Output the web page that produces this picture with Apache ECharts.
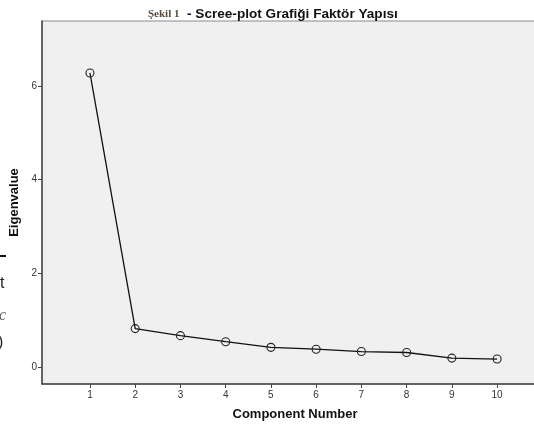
<!DOCTYPE html>
<html><head><meta charset="utf-8">
<script src="https://cdn.jsdelivr.net/npm/echarts@6/dist/echarts.min.js"></script>
<style>html,body{margin:0;padding:0;background:#fff}#c{width:534px;height:426px}</style>
</head><body><div id="c"></div>
<script>
var components = [1, 2, 3, 4, 5, 6, 7, 8, 9, 10];
var eigenvalues = [6.28, 0.82, 0.67, 0.54, 0.42, 0.38, 0.33, 0.31, 0.19, 0.17];
var xTicks = [1, 2, 3, 4, 5, 6, 7, 8, 9, 10];
var yTicks = [0, 2, 4, 6];

var chart = echarts.init(document.getElementById('c'), null, {renderer: 'canvas'});
var sans = 'Arial, "Liberation Sans", sans-serif';
chart.setOption({
  animation: false,
  backgroundColor: '#ffffff',
  title: {
    left: 143, top: 2,
    text: '{a|Şekil 1}{b|  - Scree-plot Grafiği Faktör Yapısı}',
    textStyle: {
      rich: {
        a: {fontFamily: '"Liberation Serif", "DejaVu Serif", serif', fontWeight: 'bold', fontSize: 11, color: '#5a4a3a'},
        b: {fontFamily: sans, fontWeight: 'bold', fontSize: 13.6, color: '#111'}
      }
    }
  },
  grid: {left: 42, right: -2, top: 21, bottom: 42, containLabel: false, outerBoundsMode: 'none',
    show: true, backgroundColor: '#f0f0f0', borderColor: '#8a8a8a', borderWidth: 1},
  xAxis: {
    type: 'value', min: -0.06, max: 10.86,
    axisLine: {show: true, onZero: false, lineStyle: {color: '#444', width: 1.5}},
    splitLine: {show: false},
    axisTick: {show: true, length: 4, lineStyle: {color: '#444'}, customValues: xTicks},
    axisLabel: {customValues: xTicks, color: '#333', fontSize: 10, fontFamily: sans, margin: 6},
    name: 'Component Number', nameLocation: 'middle', nameGap: 24,
    nameTextStyle: {fontFamily: sans, fontWeight: 'bold', fontSize: 13, color: '#111', padding: [0, 0, 0, 12]}
  },
  yAxis: {
    type: 'value', min: -0.363, max: 7.39,
    axisLine: {show: true, onZero: false, lineStyle: {color: '#444', width: 1.5}},
    splitLine: {show: false},
    axisTick: {show: true, length: 4, lineStyle: {color: '#444'}, customValues: yTicks},
    axisLabel: {customValues: yTicks, color: '#333', fontSize: 10, fontFamily: sans, margin: 5},
    name: 'Eigenvalue', nameLocation: 'middle', nameGap: 18, nameRotate: 90,
    nameTextStyle: {fontFamily: sans, fontWeight: 'bold', fontSize: 13, color: '#111', padding: [0, 0, 0, 0]}
  },
  series: [{
    type: 'line',
    data: components.map(function (c, i) { return [c, eigenvalues[i]]; }),
    symbol: 'circle', symbolSize: 8,
    itemStyle: {color: 'rgba(240,240,240,0)', borderColor: '#222', borderWidth: 1.1},
    lineStyle: {color: '#111', width: 1.3}
  }],
  graphic: [
    {type: 'rect', shape: {x: 0, y: 255, width: 6, height: 2}, style: {fill: '#111'}},
    {type: 'text', left: 0, top: 276, style: {text: 't', font: '16px "Liberation Sans", sans-serif', fill: '#222'}},
    {type: 'text', left: -1, top: 308, style: {text: 'c', font: 'italic 16px "Liberation Serif", serif', fill: '#666'}},
    {type: 'text', left: -2, top: 335, style: {text: ')', font: '16px "Liberation Sans", sans-serif', fill: '#222'}}
  ]
});
</script></body></html>
